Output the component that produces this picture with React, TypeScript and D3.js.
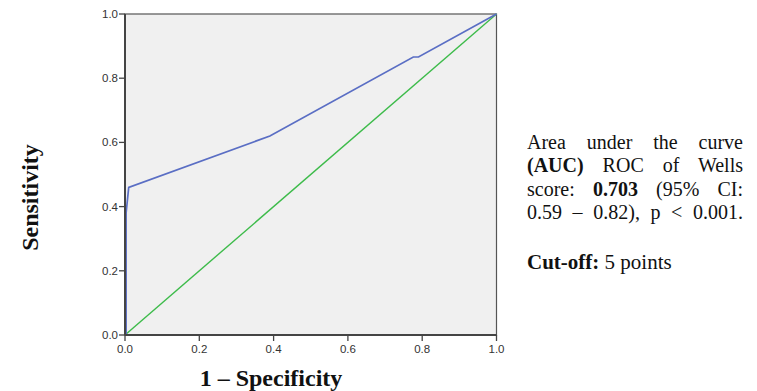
import React from 'react';
import * as d3 from 'd3';

// ROC curve of Wells score (1 - specificity, sensitivity)
const rocFpr = [0.0, 0.003, 0.003, 0.003, 0.01, 0.39, 0.776, 0.79, 1.0];
const rocTpr = [0.0, 0.0, 0.19, 0.38, 0.46, 0.62, 0.866, 0.866, 1.0];
const refLine = [0, 1];
const tickValues = [0, 0.2, 0.4, 0.6, 0.8, 1.0];
const noteLines = [
  [{ t: 'Area under the curve', b: false }],
  [{ t: '(AUC)', b: true }, { t: ' ROC of Wells', b: false }],
  [{ t: 'score: ', b: false }, { t: '0.703', b: true }, { t: ' (95% CI:', b: false }],
  [{ t: '0.59 – 0.82), p < 0.001.', b: false }],
];

const W = 757;
const H = 391;
const plot = { left: 125, right: 496.5, top: 14, bottom: 335 };

const App = () => {
  const x = d3.scaleLinear().domain([0, 1]).range([plot.left, plot.right]);
  const y = d3.scaleLinear().domain([0, 1]).range([plot.bottom, plot.top]);
  const line = d3
    .line<number>()
    .x((d, i) => x(rocFpr[i]))
    .y((d) => y(d));
  const diag = d3
    .line<number>()
    .x((d) => x(d))
    .y((d) => y(d));
  const tickFmt = d3.format('.1f');
  const axisColor = '#444';
  const serif = "'Liberation Serif', 'Times New Roman', serif";
  const sans = "'Liberation Sans', Arial, sans-serif";

  return (
    <div style={{ position: 'absolute', left: 0, top: 0 }}>
      <svg width={W} height={H} style={{ display: 'block', background: '#fff' }}>
        <rect
          x={plot.left}
          y={plot.top}
          width={plot.right - plot.left}
          height={plot.bottom - plot.top}
          fill="#f0f0f0"
          stroke="#555"
          strokeWidth={1.2}
        />
        <path d={diag(refLine) || ''} fill="none" stroke="#3dbb4a" strokeWidth={1.4} />
        <path d={line(rocTpr) || ''} fill="none" stroke="#5a6ec4" strokeWidth={1.7} />
        {/* axes */}
        <line x1={plot.left} x2={plot.left} y1={plot.top} y2={plot.bottom} stroke={axisColor} strokeWidth={2} />
        <line x1={plot.left} x2={plot.right} y1={plot.bottom} y2={plot.bottom} stroke={axisColor} strokeWidth={2} />
        {tickValues.map((v) => (
          <g key={'y' + v}>
            <line x1={plot.left - 6} x2={plot.left} y1={y(v)} y2={y(v)} stroke={axisColor} strokeWidth={1.3} />
            <text x={plot.left - 7} y={y(v)} dy="0.35em" textAnchor="end" fontFamily={sans} fontSize={11.5} fill="#333">
              {tickFmt(v)}
            </text>
          </g>
        ))}
        {tickValues.map((v) => (
          <g key={'x' + v}>
            <line x1={x(v)} x2={x(v)} y1={plot.bottom} y2={plot.bottom + 6} stroke={axisColor} strokeWidth={1.3} />
            <text x={x(v)} y={plot.bottom + 18} textAnchor="middle" fontFamily={sans} fontSize={11.5} fill="#333">
              {tickFmt(v)}
            </text>
          </g>
        ))}
        <text
          transform={`translate(38,${(plot.top + plot.bottom) / 2 + 23}) rotate(-90)`}
          textAnchor="middle"
          fontFamily={serif}
          fontWeight="bold"
          fontSize={24}
          fill="#111"
        >
          Sensitivity
        </text>
        <text x={271} y={386} textAnchor="middle" fontFamily={serif} fontWeight="bold" fontSize={24} fill="#111">
          1 – Specificity
        </text>
        <foreignObject x={527} y={131} width={216} height={160}>
          <div
            style={{
              fontFamily: serif,
              fontSize: '20px',
              lineHeight: '23.3px',
              color: '#111',
              textAlign: 'justify',
              textAlignLast: 'justify',
            }}
          >
            {noteLines.map((ln, i) => (
              <div key={i}>
                {ln.map((s, j) => (
                  <span key={j} style={{ fontWeight: s.b ? 'bold' : 'normal' }}>
                    {s.t}
                  </span>
                ))}
              </div>
            ))}
            <div style={{ marginTop: '27px', textAlignLast: 'left', fontSize: '21px' }}>
              <b>Cut-off:</b> 5 points
            </div>
          </div>
        </foreignObject>
      </svg>
    </div>
  );
};

export default App;
